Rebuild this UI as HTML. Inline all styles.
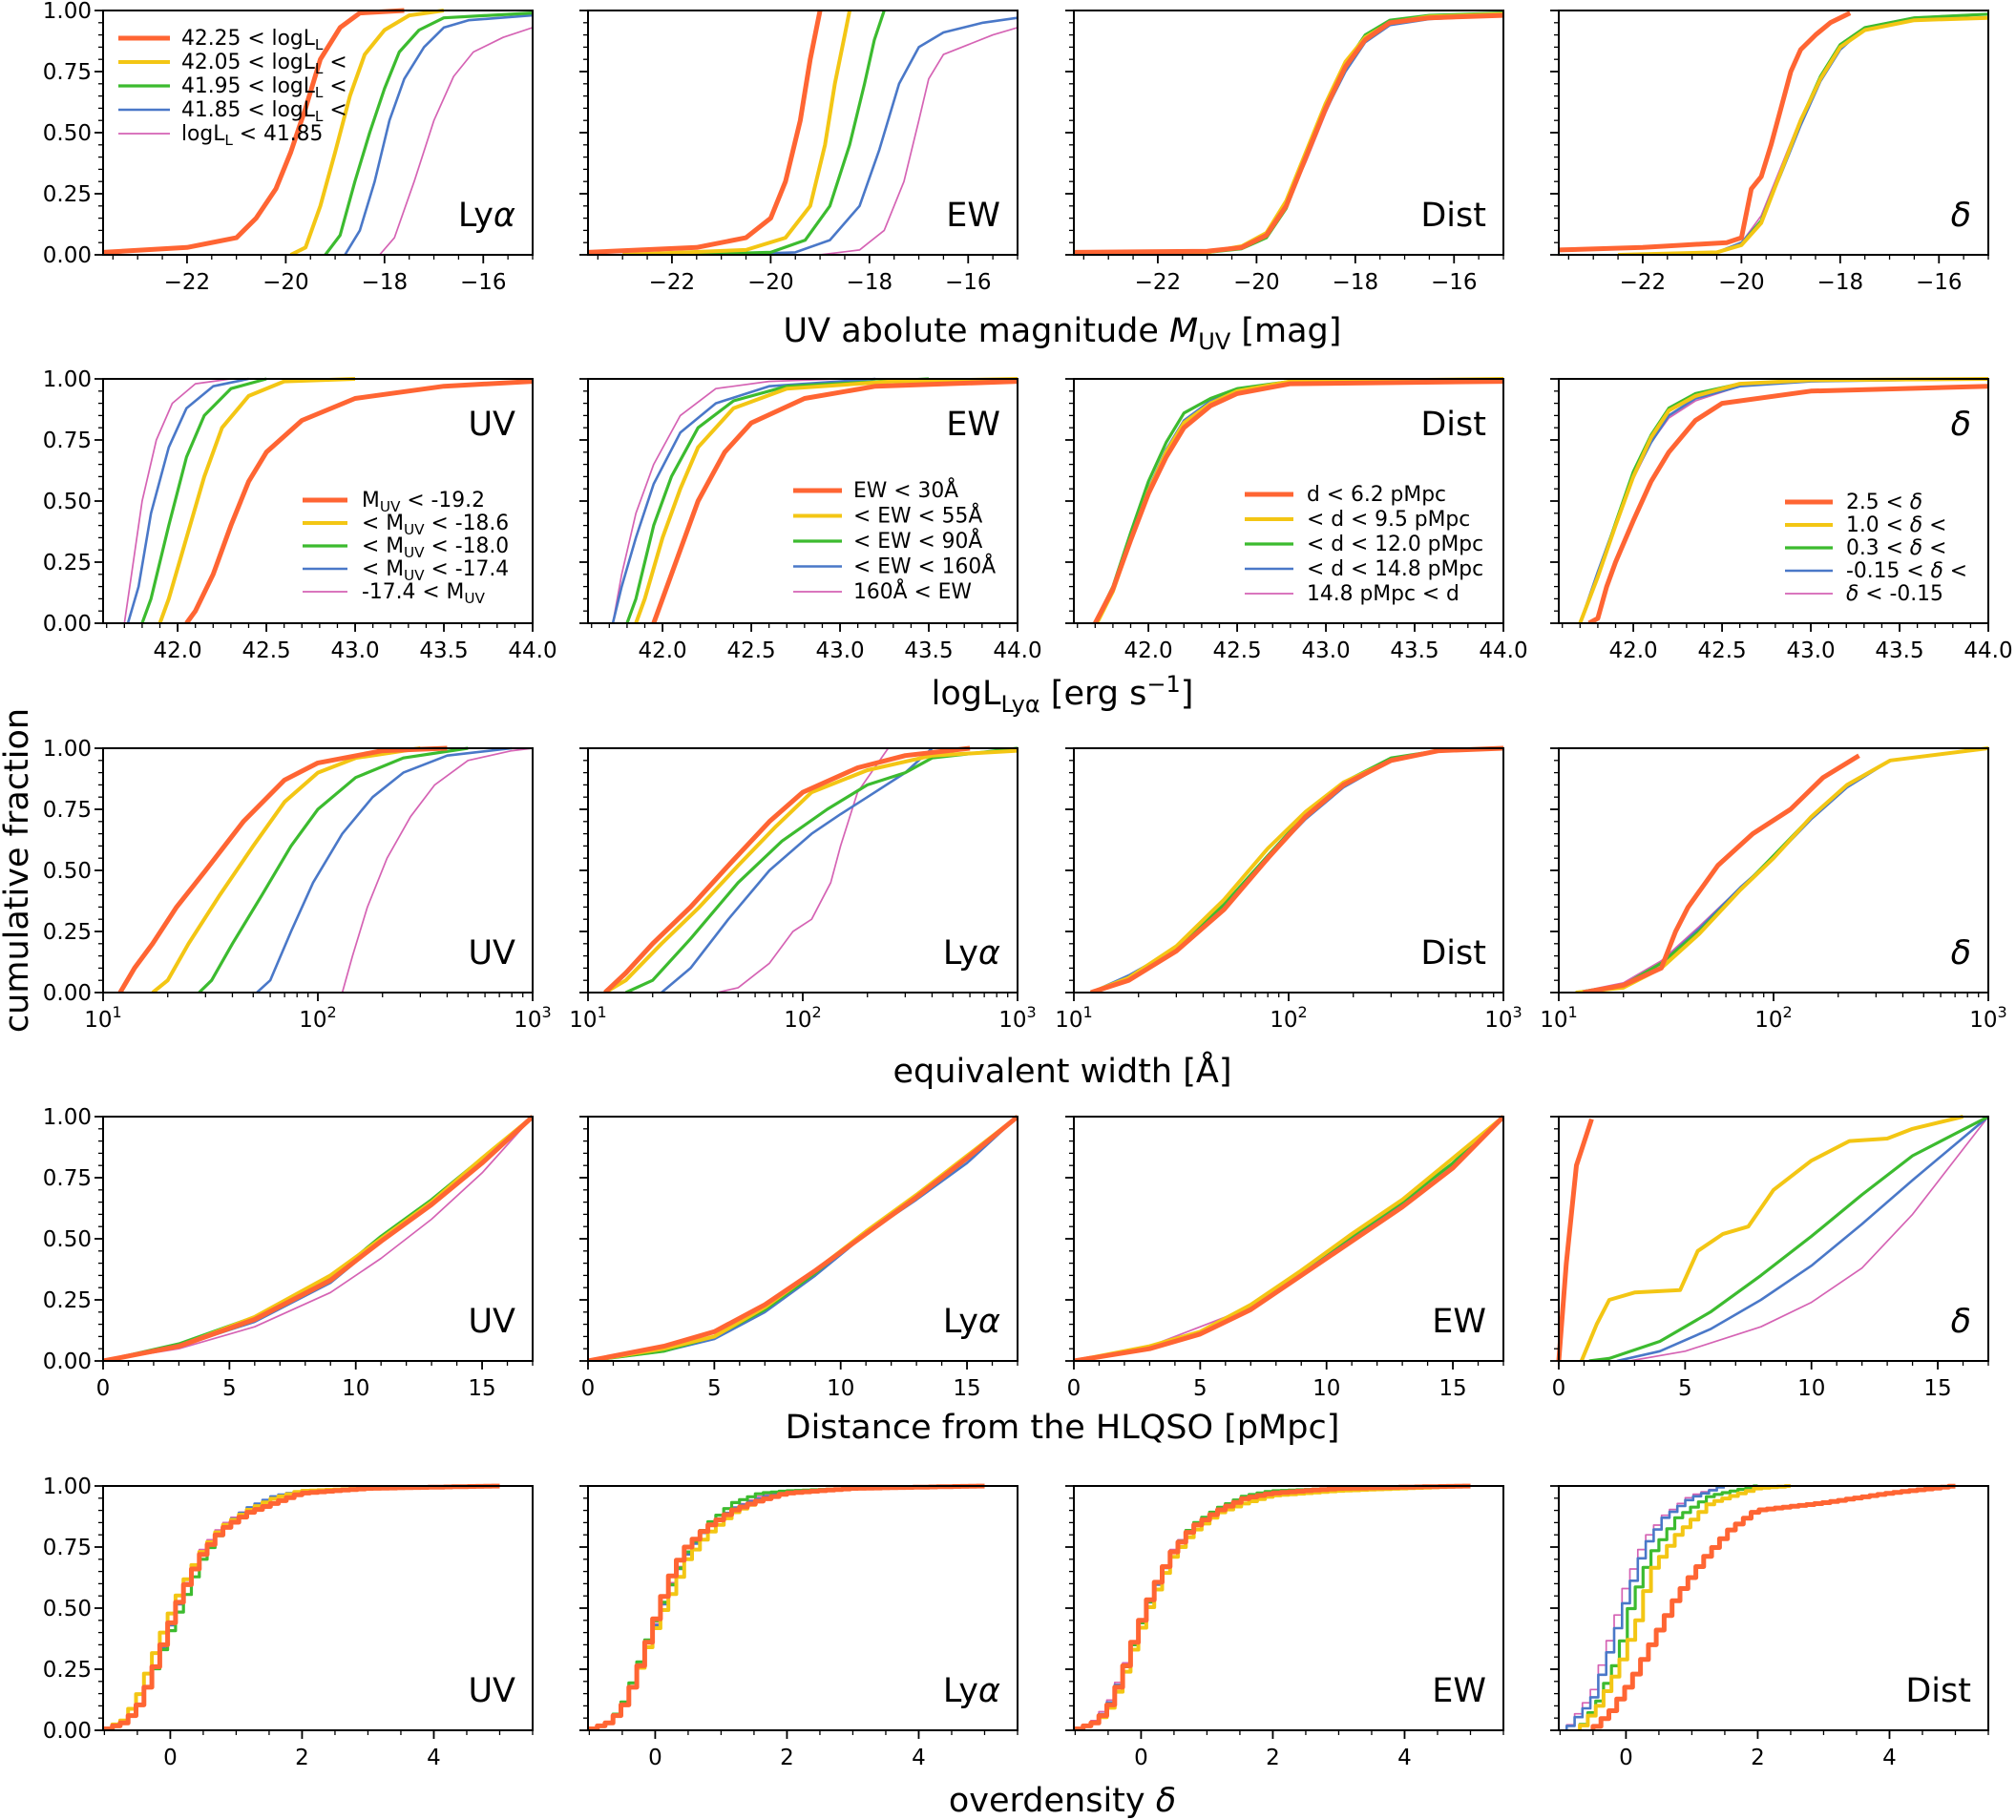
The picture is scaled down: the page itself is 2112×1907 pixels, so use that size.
<!DOCTYPE html>
<html><head><meta charset="utf-8"><style>
body{margin:0;background:#fff}
svg{display:block}
text{font-family:"DejaVu Sans","Liberation Sans",sans-serif;fill:#000}
</style></head><body>
<svg id="fig" width="2112" height="1907" viewBox="0 0 2112 1907" xmlns="http://www.w3.org/2000/svg"></svg>
<script>
// ---------- data (x, cumulative fraction) ----------
// Row 1: M_UV
const r1c1_red=[[-23.7,0.01],[-22,0.03],[-21,0.07],[-20.6,0.15],[-20.2,0.27],[-19.9,0.42],[-19.6,0.6],[-19.3,0.8],[-18.9,0.93],[-18.5,0.99],[-17.6,1.0]];
const r1c1_yel=[[-19.9,0],[-19.6,0.03],[-19.3,0.2],[-19.0,0.42],[-18.7,0.65],[-18.4,0.82],[-18.0,0.92],[-17.5,0.98],[-16.8,1.0]];
const r1c1_grn=[[-19.2,0],[-18.9,0.08],[-18.6,0.3],[-18.3,0.5],[-18.0,0.68],[-17.7,0.83],[-17.3,0.92],[-16.8,0.97],[-15,0.99]];
const r1c1_blu=[[-18.8,0],[-18.5,0.1],[-18.2,0.3],[-17.9,0.55],[-17.6,0.72],[-17.2,0.85],[-16.8,0.93],[-16.3,0.96],[-15,0.98]];
const r1c1_pnk=[[-18.1,0],[-17.8,0.07],[-17.4,0.3],[-17.0,0.55],[-16.6,0.73],[-16.2,0.83],[-15.6,0.89],[-15,0.93]];
const r1c2_red=[[-23.7,0.01],[-21.5,0.03],[-20.5,0.07],[-20.0,0.15],[-19.7,0.3],[-19.4,0.55],[-19.2,0.8],[-19.0,1.0]];
const r1c2_yel=[[-23,0],[-20.5,0.02],[-19.7,0.07],[-19.2,0.2],[-18.9,0.45],[-18.7,0.7],[-18.5,0.9],[-18.4,1.0]];
const r1c2_grn=[[-22,0],[-20,0.01],[-19.3,0.06],[-18.8,0.2],[-18.4,0.45],[-18.1,0.7],[-17.9,0.88],[-17.7,1.0]];
const r1c2_blu=[[-21,0],[-19.5,0.01],[-18.8,0.06],[-18.2,0.2],[-17.8,0.43],[-17.4,0.7],[-17.0,0.85],[-16.5,0.91],[-15.7,0.95],[-15,0.97]];
const r1c2_pnk=[[-19,0],[-18.2,0.02],[-17.7,0.1],[-17.3,0.3],[-17.0,0.55],[-16.8,0.72],[-16.5,0.82],[-16.0,0.86],[-15.5,0.9],[-15,0.93]];
const r1c3_red=[[-23.7,0.01],[-21,0.015],[-20.3,0.03],[-19.8,0.08],[-19.4,0.2],[-19.0,0.4],[-18.6,0.6],[-18.2,0.77],[-17.8,0.88],[-17.3,0.95],[-16.5,0.97],[-15,0.98]];
const r1c3_yel=[[-23.7,0.005],[-21,0.01],[-20.3,0.035],[-19.8,0.09],[-19.4,0.22],[-19.0,0.42],[-18.6,0.62],[-18.2,0.79],[-17.8,0.89],[-17.3,0.95],[-16.5,0.975],[-15,0.985]];
const r1c3_grn=[[-23.7,0.005],[-21,0.01],[-20.3,0.025],[-19.8,0.07],[-19.4,0.19],[-19.0,0.4],[-18.6,0.61],[-18.2,0.78],[-17.8,0.9],[-17.3,0.96],[-16.5,0.98],[-15,0.99]];
const r1c3_blu=[[-23.7,0.005],[-21,0.01],[-20.3,0.03],[-19.8,0.07],[-19.4,0.19],[-19.0,0.39],[-18.6,0.59],[-18.2,0.75],[-17.8,0.87],[-17.3,0.94],[-16.5,0.965],[-15,0.98]];
const r1c3_pnk=[[-23.7,0.005],[-21,0.01],[-20.3,0.03],[-19.8,0.08],[-19.4,0.2],[-19.0,0.38],[-18.6,0.58],[-18.2,0.76],[-17.8,0.88],[-17.3,0.95],[-16.5,0.97],[-15,0.98]];
const r1c4_red=[[-23.7,0.02],[-22,0.03],[-20.3,0.05],[-20.0,0.07],[-19.8,0.27],[-19.6,0.32],[-19.4,0.45],[-19.2,0.6],[-19.0,0.75],[-18.8,0.84],[-18.5,0.9],[-18.2,0.95],[-17.8,0.99]];
const r1c4_yel=[[-22.5,0],[-20.5,0.01],[-20.0,0.04],[-19.6,0.13],[-19.2,0.34],[-18.8,0.55],[-18.4,0.72],[-18.0,0.85],[-17.5,0.92],[-16.5,0.96],[-15,0.97]];
const r1c4_grn=[[-22.5,0],[-20.5,0.01],[-20.0,0.04],[-19.6,0.14],[-19.2,0.34],[-18.8,0.55],[-18.4,0.73],[-18.0,0.86],[-17.5,0.93],[-16.5,0.97],[-15,0.985]];
const r1c4_blu=[[-22.5,0],[-20.5,0.01],[-20.0,0.05],[-19.6,0.14],[-19.2,0.33],[-18.8,0.53],[-18.4,0.71],[-18.0,0.84],[-17.5,0.93],[-16.5,0.97],[-15,0.985]];
const r1c4_pnk=[[-22.5,0],[-20.5,0.01],[-20.0,0.05],[-19.6,0.16],[-19.2,0.36],[-18.8,0.56],[-18.4,0.72],[-18.0,0.85],[-17.5,0.93],[-16.5,0.97],[-15,0.985]];
// Row 2: logL
const r2c1_red=[[42.05,0],[42.1,0.05],[42.2,0.2],[42.3,0.4],[42.4,0.58],[42.5,0.7],[42.7,0.83],[43.0,0.92],[43.5,0.97],[44,0.99]];
const r2c1_yel=[[41.9,0],[41.95,0.1],[42.05,0.35],[42.15,0.6],[42.25,0.8],[42.4,0.93],[42.6,0.99],[43,1]];
const r2c1_grn=[[41.8,0],[41.85,0.1],[41.95,0.4],[42.05,0.68],[42.15,0.85],[42.3,0.96],[42.5,1.0]];
const r2c1_blu=[[41.72,0],[41.78,0.15],[41.85,0.45],[41.95,0.72],[42.05,0.88],[42.2,0.97],[42.4,1.0]];
const r2c1_pnk=[[41.7,0],[41.74,0.2],[41.8,0.5],[41.88,0.75],[41.97,0.9],[42.1,0.98],[42.3,1.0]];
const r2c2_red=[[41.95,0],[42.0,0.1],[42.1,0.3],[42.2,0.5],[42.35,0.7],[42.5,0.82],[42.8,0.92],[43.2,0.97],[44,0.99]];
const r2c2_yel=[[41.85,0],[41.9,0.1],[42.0,0.35],[42.1,0.55],[42.2,0.72],[42.4,0.88],[42.7,0.96],[43.3,0.99],[44,1]];
const r2c2_grn=[[41.8,0],[41.85,0.1],[41.95,0.4],[42.05,0.6],[42.2,0.8],[42.4,0.91],[42.7,0.97],[43.5,1]];
const r2c2_blu=[[41.72,0],[41.77,0.15],[41.85,0.35],[41.95,0.57],[42.1,0.78],[42.3,0.9],[42.6,0.97],[43.2,1]];
const r2c2_pnk=[[41.72,0],[41.77,0.2],[41.85,0.45],[41.95,0.65],[42.1,0.85],[42.3,0.96],[42.6,0.99],[43,1]];
const r2c3_red=[[41.7,0],[41.8,0.14],[41.9,0.34],[42.0,0.53],[42.1,0.68],[42.2,0.8],[42.35,0.89],[42.5,0.94],[42.8,0.98],[44,0.99]];
const r2c3_yel=[[41.71,0],[41.8,0.13],[41.9,0.34],[42.0,0.54],[42.1,0.7],[42.2,0.82],[42.35,0.9],[42.5,0.95],[42.8,0.99],[44,1]];
const r2c3_grn=[[41.7,0],[41.8,0.15],[41.9,0.37],[42.0,0.58],[42.1,0.74],[42.2,0.86],[42.35,0.92],[42.5,0.96],[42.8,0.99],[44,1]];
const r2c3_blu=[[41.7,0],[41.8,0.15],[41.9,0.35],[42.0,0.55],[42.1,0.71],[42.2,0.83],[42.35,0.91],[42.5,0.95],[42.8,0.99],[44,1]];
const r2c3_pnk=[[41.7,0],[41.8,0.15],[41.9,0.35],[42.0,0.55],[42.1,0.7],[42.2,0.82],[42.35,0.91],[42.5,0.95],[42.8,0.99],[44,1]];
const r2c4_red=[[41.75,0],[41.8,0.02],[41.85,0.15],[41.9,0.25],[42.0,0.42],[42.1,0.58],[42.2,0.7],[42.35,0.83],[42.5,0.9],[43,0.95],[44,0.97]];
const r2c4_yel=[[41.7,0],[41.8,0.19],[41.9,0.4],[42.0,0.6],[42.1,0.76],[42.2,0.87],[42.35,0.93],[42.6,0.98],[43,0.995],[44,1]];
const r2c4_grn=[[41.7,0],[41.8,0.19],[41.9,0.41],[42.0,0.62],[42.1,0.77],[42.2,0.88],[42.35,0.94],[42.6,0.98],[43,0.995],[44,1]];
const r2c4_blu=[[41.7,0],[41.8,0.21],[41.9,0.41],[42.0,0.6],[42.1,0.74],[42.2,0.85],[42.35,0.92],[42.6,0.97],[43,0.99],[44,1]];
const r2c4_pnk=[[41.7,0],[41.8,0.2],[41.9,0.39],[42.0,0.59],[42.1,0.74],[42.2,0.84],[42.35,0.91],[42.6,0.97],[43,0.99],[44,1]];
// Row 3: EW [A]
const r3c1_red=[[12,0],[14,0.1],[17,0.2],[22,0.35],[30,0.5],[45,0.7],[70,0.87],[100,0.94],[200,0.99],[400,1]];
const r3c1_yel=[[17,0],[20,0.05],[25,0.2],[35,0.4],[50,0.6],[70,0.78],[100,0.9],[150,0.96],[300,1]];
const r3c1_grn=[[28,0],[32,0.05],[40,0.2],[55,0.4],[75,0.6],[100,0.75],[150,0.88],[250,0.96],[500,1]];
const r3c1_blu=[[52,0],[60,0.05],[75,0.25],[95,0.45],[130,0.65],[180,0.8],[250,0.9],[400,0.97],[800,1]];
const r3c1_pnk=[[130,0],[145,0.15],[170,0.35],[210,0.55],[270,0.72],[350,0.85],[500,0.95],[800,0.99],[1000,1]];
const r3c2_red=[[12,0],[15,0.08],[20,0.2],[30,0.35],[45,0.52],[70,0.7],[100,0.82],[180,0.92],[300,0.97],[600,1]];
const r3c2_yel=[[12,0],[15,0.05],[22,0.2],[33,0.35],[50,0.52],[75,0.68],[110,0.82],[200,0.91],[400,0.97],[1000,0.99]];
const r3c2_grn=[[15,0],[20,0.05],[30,0.22],[50,0.45],[80,0.62],[130,0.75],[200,0.85],[300,0.9],[400,0.96],[1000,1]];
const r3c2_blu=[[22,0],[30,0.1],[45,0.3],[70,0.5],[110,0.65],[150,0.73],[200,0.8],[300,0.9],[400,1.0]];
const r3c2_pnk=[[40,0],[50,0.02],[70,0.12],[90,0.25],[110,0.3],[135,0.45],[150,0.6],[180,0.82],[250,1]];
const r3c3_red=[[12,0],[18,0.05],[30,0.17],[50,0.34],[80,0.55],[120,0.72],[180,0.85],[300,0.95],[500,0.99],[1000,1]];
const r3c3_yel=[[12,0],[18,0.06],[30,0.19],[50,0.38],[80,0.59],[120,0.74],[180,0.86],[300,0.95],[500,0.99],[1000,1]];
const r3c3_grn=[[12,0],[18,0.06],[30,0.18],[50,0.36],[80,0.56],[120,0.73],[180,0.86],[300,0.96],[500,0.99],[1000,1]];
const r3c3_blu=[[12,0],[18,0.07],[30,0.18],[50,0.35],[80,0.55],[120,0.71],[180,0.84],[300,0.95],[500,0.99],[1000,1]];
const r3c3_pnk=[[12,0],[18,0.06],[30,0.18],[50,0.35],[80,0.54],[120,0.72],[180,0.85],[300,0.95],[500,0.99],[1000,1]];
const r3c4_red=[[13,0],[20,0.03],[30,0.1],[35,0.25],[40,0.35],[55,0.52],[80,0.65],[120,0.75],[170,0.88],[250,0.97]];
const r3c4_yel=[[12,0],[20,0.02],[30,0.1],[45,0.24],[70,0.42],[100,0.55],[150,0.72],[220,0.85],[350,0.95],[1000,1]];
const r3c4_grn=[[12,0],[20,0.03],[30,0.12],[45,0.25],[70,0.42],[100,0.56],[150,0.72],[220,0.85],[350,0.95],[1000,1]];
const r3c4_blu=[[12,0],[20,0.03],[30,0.12],[45,0.26],[70,0.43],[100,0.55],[150,0.71],[220,0.84],[350,0.95],[1000,1]];
const r3c4_pnk=[[12,0],[20,0.04],[30,0.13],[45,0.27],[70,0.43],[100,0.55],[150,0.72],[220,0.85],[350,0.95],[1000,1]];
// Row 4: distance [pMpc]
const r4c1_red=[[0,0],[3,0.06],[6,0.17],[9,0.33],[11,0.49],[13,0.64],[15,0.81],[17,1.0]];
const r4c1_yel=[[0,0],[3,0.06],[6,0.18],[9,0.35],[11,0.5],[13,0.65],[15,0.83],[17,1.0]];
const r4c1_grn=[[0,0],[3,0.07],[6,0.18],[9,0.34],[11,0.51],[13,0.66],[15,0.83],[17,1.0]];
const r4c1_blu=[[0,0],[3,0.06],[6,0.16],[9,0.32],[11,0.49],[13,0.64],[15,0.81],[17,1.0]];
const r4c1_pnk=[[0,0],[3,0.05],[6,0.14],[9,0.28],[11,0.42],[13,0.58],[15,0.77],[17,1.0]];
const r4c2_red=[[0,0],[3,0.06],[5,0.12],[7,0.23],[9,0.37],[11,0.52],[13,0.67],[15,0.83],[17,1]];
const r4c2_yel=[[0,0],[3,0.05],[5,0.1],[7,0.22],[9,0.37],[11,0.53],[13,0.68],[15,0.84],[17,1]];
const r4c2_grn=[[0,0],[3,0.04],[5,0.1],[7,0.21],[9,0.36],[11,0.53],[13,0.68],[15,0.84],[17,1]];
const r4c2_blu=[[0,0],[3,0.04],[5,0.09],[7,0.2],[9,0.35],[11,0.52],[13,0.66],[15,0.81],[17,1]];
const r4c2_pnk=[[0,0],[3,0.05],[5,0.1],[7,0.21],[9,0.36],[11,0.53],[13,0.68],[15,0.83],[17,1]];
const r4c3_red=[[0,0],[3,0.05],[5,0.11],[7,0.21],[9,0.35],[11,0.49],[13,0.63],[15,0.79],[17,1]];
const r4c3_yel=[[0,0],[3,0.06],[5,0.12],[7,0.23],[9,0.37],[11,0.52],[13,0.66],[15,0.83],[17,1]];
const r4c3_grn=[[0,0],[3,0.05],[5,0.12],[7,0.23],[9,0.37],[11,0.51],[13,0.65],[15,0.81],[17,1]];
const r4c3_blu=[[0,0],[3,0.05],[5,0.12],[7,0.22],[9,0.36],[11,0.5],[13,0.64],[15,0.79],[17,1]];
const r4c3_pnk=[[0,0],[3,0.06],[5,0.14],[7,0.22],[9,0.35],[11,0.49],[13,0.63],[15,0.8],[17,1]];
const r4c4_red=[[0,0],[0.3,0.4],[0.7,0.8],[1.3,0.99]];
const r4c4_yel=[[0.9,0],[1.5,0.15],[2,0.25],[3,0.28],[4.8,0.29],[5.5,0.45],[6.5,0.52],[7.5,0.55],[8.5,0.7],[10,0.82],[11.5,0.9],[13,0.91],[14,0.95],[16,1]];
const r4c4_grn=[[1.2,0],[2,0.01],[4,0.08],[6,0.2],[8,0.35],[10,0.51],[12,0.68],[14,0.84],[17,1]];
const r4c4_blu=[[2.3,0],[4,0.04],[6,0.13],[8,0.25],[10,0.39],[12,0.56],[14,0.74],[17,1]];
const r4c4_pnk=[[2.8,0],[5,0.04],[8,0.14],[10,0.24],[12,0.38],[14,0.6],[17,1]];
// Row 5: overdensity
const r5c1_red=[[-1,0],[-0.7,0.03],[-0.5,0.08],[-0.3,0.2],[-0.1,0.35],[0.1,0.5],[0.3,0.62],[0.5,0.72],[0.8,0.82],[1.2,0.89],[1.6,0.93],[2,0.97],[3,0.99],[5,1]];
const r5c1_yel=[[-1,0],[-0.7,0.04],[-0.5,0.12],[-0.3,0.26],[-0.1,0.4],[0.1,0.53],[0.3,0.64],[0.5,0.73],[0.8,0.83],[1.2,0.9],[1.6,0.95],[2,0.98],[3,0.99],[5,1]];
const r5c1_grn=[[-1,0],[-0.7,0.03],[-0.5,0.08],[-0.3,0.2],[-0.1,0.33],[0.1,0.46],[0.3,0.58],[0.5,0.7],[0.8,0.82],[1.2,0.9],[1.6,0.95],[2,0.98],[3,0.99],[5,1]];
const r5c1_blu=[[-1,0],[-0.7,0.03],[-0.5,0.08],[-0.3,0.2],[-0.1,0.34],[0.1,0.49],[0.3,0.62],[0.5,0.73],[0.8,0.83],[1.2,0.91],[1.6,0.96],[2,0.98],[3,0.99],[5,1]];
const r5c1_pnk=[[-1,0],[-0.7,0.03],[-0.5,0.08],[-0.3,0.2],[-0.1,0.35],[0.1,0.5],[0.3,0.63],[0.5,0.74],[0.8,0.84],[1.2,0.91],[1.6,0.96],[2,0.98],[3,0.99],[5,1]];
const r5c2_red=[[-1,0],[-0.7,0.03],[-0.5,0.08],[-0.3,0.2],[-0.1,0.36],[0.1,0.52],[0.3,0.66],[0.5,0.75],[0.8,0.83],[1.2,0.9],[1.6,0.94],[2,0.97],[3,0.99],[5,1]];
const r5c2_yel=[[-1,0],[-0.7,0.03],[-0.5,0.08],[-0.3,0.2],[-0.1,0.34],[0.1,0.47],[0.3,0.58],[0.5,0.7],[0.8,0.8],[1.2,0.89],[1.6,0.94],[2,0.97],[3,0.99],[5,1]];
const r5c2_grn=[[-1,0],[-0.7,0.03],[-0.5,0.09],[-0.3,0.22],[-0.1,0.37],[0.1,0.5],[0.3,0.62],[0.5,0.73],[0.8,0.84],[1.2,0.93],[1.6,0.97],[2,0.98],[3,0.99],[5,1]];
const r5c2_blu=[[-1,0],[-0.7,0.03],[-0.5,0.08],[-0.3,0.2],[-0.1,0.34],[0.1,0.49],[0.3,0.62],[0.5,0.72],[0.8,0.83],[1.2,0.91],[1.6,0.95],[2,0.98],[3,0.99],[5,1]];
const r5c2_pnk=[[-1,0],[-0.7,0.03],[-0.5,0.08],[-0.3,0.2],[-0.1,0.34],[0.1,0.5],[0.3,0.63],[0.5,0.73],[0.8,0.83],[1.2,0.91],[1.6,0.96],[2,0.98],[3,0.99],[5,1]];
const r5c3_red=[[-1,0],[-0.7,0.03],[-0.5,0.08],[-0.3,0.2],[-0.1,0.36],[0.1,0.51],[0.3,0.63],[0.5,0.73],[0.8,0.83],[1.2,0.9],[1.6,0.95],[2,0.97],[3,0.99],[5,1]];
const r5c3_yel=[[-1,0],[-0.7,0.03],[-0.5,0.07],[-0.3,0.18],[-0.1,0.33],[0.1,0.48],[0.3,0.6],[0.5,0.71],[0.8,0.81],[1.2,0.89],[1.6,0.93],[2,0.96],[3,0.98],[5,1]];
const r5c3_grn=[[-1,0],[-0.7,0.03],[-0.5,0.08],[-0.3,0.2],[-0.1,0.35],[0.1,0.5],[0.3,0.63],[0.5,0.73],[0.8,0.84],[1.2,0.91],[1.6,0.96],[2,0.98],[3,0.99],[5,1]];
const r5c3_blu=[[-1,0],[-0.7,0.03],[-0.5,0.09],[-0.3,0.21],[-0.1,0.35],[0.1,0.5],[0.3,0.62],[0.5,0.73],[0.8,0.83],[1.2,0.91],[1.6,0.96],[2,0.98],[3,0.99],[5,1]];
const r5c3_pnk=[[-1,0],[-0.7,0.04],[-0.5,0.1],[-0.3,0.22],[-0.1,0.36],[0.1,0.5],[0.3,0.63],[0.5,0.74],[0.8,0.84],[1.2,0.91],[1.6,0.96],[2,0.98],[3,0.99],[5,1]];
const r5c4_red=[[-0.5,0],[-0.2,0.08],[0.1,0.2],[0.4,0.35],[0.8,0.55],[1.2,0.7],[1.6,0.82],[2,0.9],[3,0.93],[4,0.97],[5,1]];
const r5c4_yel=[[-0.7,0],[-0.4,0.1],[-0.1,0.25],[0.2,0.45],[0.4,0.65],[0.8,0.8],[1.3,0.93],[2,0.99],[2.5,1]];
const r5c4_grn=[[-0.7,0],[-0.4,0.12],[-0.1,0.3],[0.1,0.52],[0.4,0.72],[0.8,0.87],[1.3,0.96],[2,1]];
const r5c4_blu=[[-0.9,0],[-0.5,0.12],[-0.2,0.35],[0,0.52],[0.3,0.75],[0.6,0.87],[1,0.95],[1.5,1]];
const r5c4_pnk=[[-0.9,0],[-0.5,0.15],[-0.2,0.4],[0,0.58],[0.3,0.78],[0.6,0.88],[1,0.96],[1.5,1]];

const yTickLabels=["0.00","0.25","0.50","0.75","1.00"];
const r1Ticks=[-22,-20,-18,-16];
const r2Ticks=[42.0,42.5,43.0,43.5,44.0];
const r3Ticks=[10,100,1000];
const r4Ticks=[0,5,10,15];
const r5Ticks=[0,2,4];
const row1Labels=["Lyα","EW","Dist","δ"];
const row2Labels=["UV","EW","Dist","δ"];
const row3Labels=["UV","Lyα","Dist","δ"];
const row4Labels=["UV","Lyα","EW","δ"];
const row5Labels=["UV","Lyα","EW","Dist"];

// ---------- layout ----------
const NS="http://www.w3.org/2000/svg";
const svg=document.getElementById('fig');
const COLS=[108,616,1125,1633], W=450;
const ROWS=[11,397,784,1170,1557], H=256;
const COLORS=["#ff6533","#f3c614","#3cbb2f","#4a78c8","#d563b4"];
const WIDTHS=[5,4,3.2,2.6,1.7];
const SNAMES=["red","yellow","green","blue","pink"];
function el(tag,attrs,parent){const e=document.createElementNS(NS,tag);for(const k in attrs)e.setAttribute(k,attrs[k]);(parent||svg).appendChild(e);return e;}

const rowCfg=[
 {min:-23.7,max:-15,log:false,ticks:r1Ticks,minor:0.5,fmt:v=>"\u2212"+Math.abs(v),labels:row1Labels,labTop:false,name:'muv'},
 {min:41.58,max:44,log:false,ticks:r2Ticks,minor:0.1,fmt:v=>v.toFixed(1),labels:row2Labels,labTop:true,name:'loglya'},
 {min:10,max:1000,log:true,ticks:r3Ticks,labels:row3Labels,labTop:false,name:'ew'},
 {min:0,max:17,log:false,ticks:r4Ticks,minor:1,fmt:v=>String(v),labels:row4Labels,labTop:false,name:'dist'},
 {min:-1.02,max:5.5,log:false,ticks:r5Ticks,minor:0.5,fmt:v=>String(v),labels:row5Labels,labTop:false,step:true,name:'delta'}
];
const data=[
 [[r1c1_red,r1c1_yel,r1c1_grn,r1c1_blu,r1c1_pnk],[r1c2_red,r1c2_yel,r1c2_grn,r1c2_blu,r1c2_pnk],[r1c3_red,r1c3_yel,r1c3_grn,r1c3_blu,r1c3_pnk],[r1c4_red,r1c4_yel,r1c4_grn,r1c4_blu,r1c4_pnk]],
 [[r2c1_red,r2c1_yel,r2c1_grn,r2c1_blu,r2c1_pnk],[r2c2_red,r2c2_yel,r2c2_grn,r2c2_blu,r2c2_pnk],[r2c3_red,r2c3_yel,r2c3_grn,r2c3_blu,r2c3_pnk],[r2c4_red,r2c4_yel,r2c4_grn,r2c4_blu,r2c4_pnk]],
 [[r3c1_red,r3c1_yel,r3c1_grn,r3c1_blu,r3c1_pnk],[r3c2_red,r3c2_yel,r3c2_grn,r3c2_blu,r3c2_pnk],[r3c3_red,r3c3_yel,r3c3_grn,r3c3_blu,r3c3_pnk],[r3c4_red,r3c4_yel,r3c4_grn,r3c4_blu,r3c4_pnk]],
 [[r4c1_red,r4c1_yel,r4c1_grn,r4c1_blu,r4c1_pnk],[r4c2_red,r4c2_yel,r4c2_grn,r4c2_blu,r4c2_pnk],[r4c3_red,r4c3_yel,r4c3_grn,r4c3_blu,r4c3_pnk],[r4c4_red,r4c4_yel,r4c4_grn,r4c4_blu,r4c4_pnk]],
 [[r5c1_red,r5c1_yel,r5c1_grn,r5c1_blu,r5c1_pnk],[r5c2_red,r5c2_yel,r5c2_grn,r5c2_blu,r5c2_pnk],[r5c3_red,r5c3_yel,r5c3_grn,r5c3_blu,r5c3_pnk],[r5c4_red,r5c4_yel,r5c4_grn,r5c4_blu,r5c4_pnk]]
];

function interp(arr,x){
  if(x<=arr[0][0])return arr[0][1];
  for(let i=1;i<arr.length;i++){if(x<=arr[i][0]){const a=arr[i-1],b=arr[i];return a[1]+(b[1]-a[1])*(x-a[0])/(b[0]-a[0]);}}
  return arr[arr.length-1][1];
}

const defs=el('defs',{});
rowCfg.forEach((rc,ri)=>{
  COLS.forEach((L,ci)=>{
    const T=ROWS[ri];
    const xs=v=>rc.log? L+W*(Math.log10(v)-Math.log10(rc.min))/(Math.log10(rc.max)-Math.log10(rc.min)) : L+W*(v-rc.min)/(rc.max-rc.min);
    const ys=v=>T+H*(1-v);
    const g=el('g',{});
    
    
    const cid='clip'+ri+ci;
    const cp=el('clipPath',{id:cid},defs);
    el('rect',{x:L-3,y:T-3,width:W+3,height:H+3},cp);
    const sg=el('g',{'clip-path':'url(#'+cid+')'},g);
    for(let s=4;s>=0;s--){
      const arr=data[ri][ci][s];
      let d='';
      if(rc.step){
        const x0=arr[0][0], x1=arr[arr.length-1][0], bw=0.12;
        let x=x0; d='M'+xs(x).toFixed(1)+','+ys(0).toFixed(1);
        while(x<x1){const yv=interp(arr,x+bw/2);d+='V'+ys(yv).toFixed(1)+'H'+xs(Math.min(x+bw,x1)).toFixed(1);x+=bw;}
      } else {
        arr.forEach((p,i)=>{d+=(i?'L':'M')+xs(p[0]).toFixed(1)+','+ys(p[1]).toFixed(1);});
      }
      const p=el('path',{d:d,fill:'none',stroke:COLORS[s],'stroke-width':WIDTHS[s],'stroke-linejoin':'round'},sg);
      
      
    }
    el('rect',{x:L,y:T,width:W,height:H,fill:'none',stroke:'#000','stroke-width':2},g);
    for(let k=0;k<=20;k++){const yy=ys(k/20);const major=k%5===0;el('line',{x1:L,x2:L-(major?9:5),y1:yy,y2:yy,stroke:'#000','stroke-width':major?1.8:1.3},g);}
    if(ci===0){yTickLabels.forEach((t,k)=>{const tx=el('text',{x:L-12,y:ys(k*0.25)+8,'font-size':23,'text-anchor':'end'},g);tx.textContent=t;});}
    if(rc.log){
      for(let dec=10;dec<1000;dec*=10){for(let m=2;m<=9;m++){const xx=xs(dec*m);el('line',{x1:xx,x2:xx,y1:T+H,y2:T+H+5,stroke:'#000','stroke-width':1.3},g);}}
      rc.ticks.forEach((v,k)=>{const xx=xs(v);el('line',{x1:xx,x2:xx,y1:T+H,y2:T+H+9,stroke:'#000','stroke-width':1.8},g);
        const tx=el('text',{x:xx,y:T+H+36,'font-size':23,'text-anchor':'middle'},g);
        const a=el('tspan',{},tx);a.textContent='10';const b=el('tspan',{dy:-10,'font-size':16},tx);b.textContent=String(k+1);});
    } else {
      const st=rc.minor;
      for(let v=Math.ceil(rc.min/st)*st;v<=rc.max+1e-9;v+=st){const xx=xs(v);el('line',{x1:xx,x2:xx,y1:T+H,y2:T+H+5,stroke:'#000','stroke-width':1.3},g);}
      rc.ticks.forEach(v=>{const xx=xs(v);el('line',{x1:xx,x2:xx,y1:T+H,y2:T+H+9,stroke:'#000','stroke-width':1.8},g);
        const tx=el('text',{x:xx,y:T+H+36,'font-size':23,'text-anchor':'middle'},g);tx.textContent=rc.fmt(v);});
    }
    const lab=rc.labels[ci];
    const lt=el('text',{x:L+W-18,y:rc.labTop?T+59:T+226,'font-size':35,'text-anchor':'end'},g);
    
    
    if(lab==='Lyα'){const a=el('tspan',{},lt);a.textContent='Ly';const b=el('tspan',{'font-style':'italic'},lt);b.textContent='α';}
    else if(lab==='δ'){lt.setAttribute('font-style','italic');lt.textContent='δ';}
    else lt.textContent=lab;
  });
});

// ---------- legends ----------
function legend(name,x1,x2,tx,y0,dy,fs,entries){
  const g=el('g',{});
  
  
  entries.forEach((e,i)=>{
    const y=y0+dy*i;
    el('line',{x1:x1,x2:x2,y1:y,y2:y,stroke:COLORS[i],'stroke-width':WIDTHS[i]},g);
    const t=el('text',{x:tx,y:y+7,'font-size':fs},g);
    e.forEach(part=>{const s=el('tspan',part[1]==='sub'?{dy:5,'font-size':fs*0.7}:part[1]==='up'?{dy:-5,'font-size':fs}:part[1]==='it'?{'font-style':'italic'}:{},t);s.textContent=part[0];});
  });
}
legend('legend-lya-bins',124,178,190,40,25,21.8,[
 [['42.25 < logL',''],['L','sub'],['','up']],
 [['42.05 < logL',''],['L','sub'],[' <','up']],
 [['41.95 < logL',''],['L','sub'],[' <','up']],
 [['41.85 < logL',''],['L','sub'],[' <','up']],
 [['logL',''],['L','sub'],[' < 41.85','up']]
]);
legend('legend-uv-bins',317,364,379,524,24,21.8,[
 [['M',''],['UV','sub'],[' < -19.2','up']],
 [['< M',''],['UV','sub'],[' < -18.6','up']],
 [['< M',''],['UV','sub'],[' < -18.0','up']],
 [['< M',''],['UV','sub'],[' < -17.4','up']],
 [['-17.4 < M',''],['UV','sub'],['','up']]
]);
legend('legend-ew-bins',831,882,894,514,26.5,21.8,[
 [['EW < 30Å','']],[['< EW < 55Å','']],[['< EW < 90Å','']],[['< EW < 160Å','']],[['160Å < EW','']]
]);
legend('legend-dist-bins',1304,1355,1369,518,26,21.8,[
 [['d < 6.2 pMpc','']],[['< d < 9.5 pMpc','']],[['< d < 12.0 pMpc','']],[['< d < 14.8 pMpc','']],[['14.8 pMpc < d','']]
]);
legend('legend-delta-bins',1870,1920,1934,526,24,21.8,[
 [['2.5 < ',''],['δ','it']],[['1.0 < ',''],['δ','it'],[' <','']],[['0.3 < ',''],['δ','it'],[' <','']],[['-0.15 < ',''],['δ','it'],[' <','']],[['δ','it'],[' < -0.15','']]
]);

// ---------- axis titles ----------
function title(name,x,y,parts,rot){
  const t=el('text',{x:x,y:y,'font-size':35,'text-anchor':'middle'});
  
  
  if(rot)t.setAttribute('transform','rotate(-90 '+x+' '+y+')');
  parts.forEach(p=>{const s=el('tspan',p[1]==='sub'?{dy:8,'font-size':24}:p[1]==='sup'?{dy:-13,'font-size':24}:p[1]==='back'?{dy:p[2]}:p[1]==='it'?{'font-style':'italic'}:{},t);s.textContent=p[0];});
}
title('x-axis-title-muv',1113,358,[['UV abolute magnitude ',''],['M','it'],['UV','sub'],[' [mag]','back',-8]]);
title('x-axis-title-loglya',1113,738,[['logL',''],['Lyα','sub'],[' [erg s','back',-8],['−1','sup'],[']','back',13]]);
title('x-axis-title-ew',1113,1134,[['equivalent width [Å]','']]);
title('x-axis-title-distance',1113,1507,[['Distance from the HLQSO [pMpc]','']]);
title('x-axis-title-overdensity',1113,1898,[['overdensity ',''],['δ','it']]);
title('y-axis-title',29,912,[['cumulative fraction','']],true);
</script>
</body></html>
